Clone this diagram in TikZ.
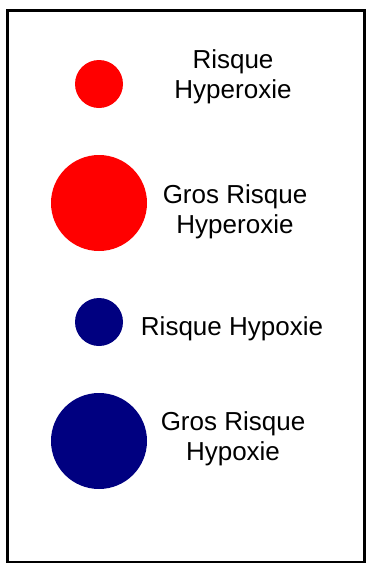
\documentclass[tikz,border=0pt]{standalone}
\usepackage{fontspec}
\setmainfont{Liberation Sans}
\usetikzlibrary{positioning}
\definecolor{hyperred}{RGB}{255,0,0}
\definecolor{hyponavy}{RGB}{0,0,128}

\begin{document}
\begin{tikzpicture}[
  x=1pt, y=-1pt,
  dot/.style={circle, inner sep=0pt, minimum size=#1},
  lbl/.style={align=center, inner sep=0pt, font=\fontsize{26}{30}\selectfont},
  frame/.style={draw, line width=3pt}
]
\useasboundingbox (0,0) rectangle (367,563);
\draw[frame] (7.5,10) rectangle (364,562);

% legend dots
\node[dot=48pt, fill=hyperred] (hyper) at (99,84) {};
\node[dot=96pt, fill=hyperred] (bighyper) at (99,203) {};
\node[dot=48pt, fill=hyponavy] (hypo) at (99,322) {};
\node[dot=96pt, fill=hyponavy] (bighypo) at (99,441) {};

% legend texts
\node[lbl] (hypertxt) at (233,77) {Risque\\Hyperoxie};
\node[lbl] (bighypertxt) at (235,212) {Gros Risque\\Hyperoxie};
\node[lbl] (hypotxt) at (232,329) {Risque Hypoxie};
\node[lbl] (bighypotxt) at (233,439) {Gros Risque\\Hypoxie};
\end{tikzpicture}
\end{document}
